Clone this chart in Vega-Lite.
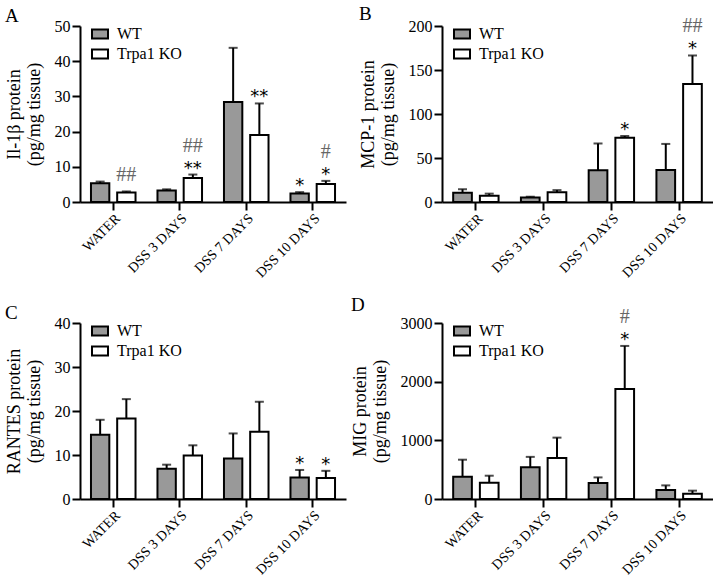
{
  "$schema": "https://vega.github.io/schema/vega-lite/v6.json",
  "padding": {"left": 5, "top": 5, "right": 0, "bottom": 0},
  "background": "white",
  "columns": 2,
  "spacing": {"row": 121, "column": 96},
  "bounds": "flush",
  "datasets": {
    "bars": [
      {"panel": "A", "group": "WATER", "genotype": "WT", "mean": 5.3, "upper": 5.8, "lo": "", "hi": ""},
      {"panel": "A", "group": "WATER", "genotype": "Trpa1 KO", "mean": 2.7, "upper": 3.0, "lo": "##", "hi": ""},
      {"panel": "A", "group": "DSS 3 DAYS", "genotype": "WT", "mean": 3.3, "upper": 3.6, "lo": "", "hi": ""},
      {"panel": "A", "group": "DSS 3 DAYS", "genotype": "Trpa1 KO", "mean": 6.8, "upper": 7.8, "lo": "**", "hi": "##"},
      {"panel": "A", "group": "DSS 7 DAYS", "genotype": "WT", "mean": 28.4, "upper": 43.8, "lo": "", "hi": ""},
      {"panel": "A", "group": "DSS 7 DAYS", "genotype": "Trpa1 KO", "mean": 19.0, "upper": 28.0, "lo": "**", "hi": ""},
      {"panel": "A", "group": "DSS 10 DAYS", "genotype": "WT", "mean": 2.4, "upper": 2.8, "lo": "*", "hi": ""},
      {"panel": "A", "group": "DSS 10 DAYS", "genotype": "Trpa1 KO", "mean": 5.1, "upper": 6.0, "lo": "*", "hi": "#"},
      {"panel": "B", "group": "WATER", "genotype": "WT", "mean": 10.5, "upper": 14.5, "lo": "", "hi": ""},
      {"panel": "B", "group": "WATER", "genotype": "Trpa1 KO", "mean": 7.0, "upper": 9.5, "lo": "", "hi": ""},
      {"panel": "B", "group": "DSS 3 DAYS", "genotype": "WT", "mean": 5.0, "upper": 6.0, "lo": "", "hi": ""},
      {"panel": "B", "group": "DSS 3 DAYS", "genotype": "Trpa1 KO", "mean": 11.0, "upper": 13.5, "lo": "", "hi": ""},
      {"panel": "B", "group": "DSS 7 DAYS", "genotype": "WT", "mean": 36.0, "upper": 66.5, "lo": "", "hi": ""},
      {"panel": "B", "group": "DSS 7 DAYS", "genotype": "Trpa1 KO", "mean": 73.0, "upper": 75.0, "lo": "*", "hi": ""},
      {"panel": "B", "group": "DSS 10 DAYS", "genotype": "WT", "mean": 36.5, "upper": 66.0, "lo": "", "hi": ""},
      {"panel": "B", "group": "DSS 10 DAYS", "genotype": "Trpa1 KO", "mean": 134.0, "upper": 166.5, "lo": "*", "hi": "##"},
      {"panel": "C", "group": "WATER", "genotype": "WT", "mean": 14.6, "upper": 18.0, "lo": "", "hi": ""},
      {"panel": "C", "group": "WATER", "genotype": "Trpa1 KO", "mean": 18.3, "upper": 22.7, "lo": "", "hi": ""},
      {"panel": "C", "group": "DSS 3 DAYS", "genotype": "WT", "mean": 6.9, "upper": 7.8, "lo": "", "hi": ""},
      {"panel": "C", "group": "DSS 3 DAYS", "genotype": "Trpa1 KO", "mean": 9.9, "upper": 12.2, "lo": "", "hi": ""},
      {"panel": "C", "group": "DSS 7 DAYS", "genotype": "WT", "mean": 9.2, "upper": 14.9, "lo": "", "hi": ""},
      {"panel": "C", "group": "DSS 7 DAYS", "genotype": "Trpa1 KO", "mean": 15.3, "upper": 22.1, "lo": "", "hi": ""},
      {"panel": "C", "group": "DSS 10 DAYS", "genotype": "WT", "mean": 4.9, "upper": 6.6, "lo": "*", "hi": ""},
      {"panel": "C", "group": "DSS 10 DAYS", "genotype": "Trpa1 KO", "mean": 4.8, "upper": 6.4, "lo": "*", "hi": ""},
      {"panel": "D", "group": "WATER", "genotype": "WT", "mean": 380, "upper": 670, "lo": "", "hi": ""},
      {"panel": "D", "group": "WATER", "genotype": "Trpa1 KO", "mean": 275, "upper": 397, "lo": "", "hi": ""},
      {"panel": "D", "group": "DSS 3 DAYS", "genotype": "WT", "mean": 540, "upper": 718, "lo": "", "hi": ""},
      {"panel": "D", "group": "DSS 3 DAYS", "genotype": "Trpa1 KO", "mean": 700, "upper": 1046, "lo": "", "hi": ""},
      {"panel": "D", "group": "DSS 7 DAYS", "genotype": "WT", "mean": 272, "upper": 368, "lo": "", "hi": ""},
      {"panel": "D", "group": "DSS 7 DAYS", "genotype": "Trpa1 KO", "mean": 1874, "upper": 2609, "lo": "*", "hi": "#"},
      {"panel": "D", "group": "DSS 10 DAYS", "genotype": "WT", "mean": 155, "upper": 232, "lo": "", "hi": ""},
      {"panel": "D", "group": "DSS 10 DAYS", "genotype": "Trpa1 KO", "mean": 90, "upper": 142, "lo": "", "hi": ""}
    ]
  },
  "concat": [
    {
      "width": 266, "height": 176,
      "title": {"text": "A"},
      "data": {"name": "bars"},
      "transform": [{"filter": "datum.panel === 'A'"}],
      "encoding": {
        "x": {"field": "group", "type": "nominal", "sort": ["WATER", "DSS 3 DAYS", "DSS 7 DAYS", "DSS 10 DAYS"], "scale": {"paddingInner": 0.33, "paddingOuter": 0.165}, "title": null, "axis": {"labelAngle": -45}},
        "xOffset": {"field": "genotype", "type": "nominal", "sort": ["WT", "Trpa1 KO"], "scale": {"paddingInner": 0.3}}
      },
      "layer": [
        {"mark": {"type": "bar", "stroke": "black", "strokeWidth": 2},
         "encoding": {
           "y": {"field": "mean", "type": "quantitative", "title": ["Il-1β protein", "(pg/mg tissue)"], "scale": {"domain": [0, 50], "nice": false}, "axis": {"values": [0, 10, 20, 30, 40, 50], "format": "d"}},
           "fill": {"field": "genotype", "type": "nominal", "sort": ["WT", "Trpa1 KO"], "scale": {"domain": ["WT", "Trpa1 KO"], "range": ["#999999", "#ffffff"]}, "legend": {"orient": "none", "legendX": 11, "legendY": -1}}
         }},
        {"mark": {"type": "rule", "strokeWidth": 2, "color": "black"},
         "encoding": {"y": {"field": "mean", "type": "quantitative", "title": ["Il-1β protein", "(pg/mg tissue)"], "axis": {"values": [0, 10, 20, 30, 40, 50], "format": "d"}}, "y2": {"field": "upper"}}},
        {"mark": {"type": "tick", "thickness": 2, "size": 9, "color": "black"},
         "encoding": {"y": {"field": "upper", "type": "quantitative", "title": ["Il-1β protein", "(pg/mg tissue)"], "axis": {"values": [0, 10, 20, 30, 40, 50], "format": "d"}}}},
        {"transform": [{"filter": "indexof(datum.lo, '*') >= 0"}],
         "mark": {"type": "text", "font": "DejaVu Sans", "fontSize": 18, "baseline": "alphabetic", "dy": -1, "color": "black"},
         "encoding": {"y": {"field": "upper", "type": "quantitative", "title": ["Il-1β protein", "(pg/mg tissue)"], "axis": {"values": [0, 10, 20, 30, 40, 50], "format": "d"}}, "text": {"field": "lo"}}},
        {"transform": [{"filter": "indexof(datum.lo, '#') >= 0"}],
         "mark": {"type": "text", "font": "Liberation Serif", "fontSize": 20, "baseline": "alphabetic", "dy": -10, "color": "#666666"},
         "encoding": {"y": {"field": "upper", "type": "quantitative", "title": ["Il-1β protein", "(pg/mg tissue)"], "axis": {"values": [0, 10, 20, 30, 40, 50], "format": "d"}}, "text": {"field": "lo"}}},
        {"transform": [{"filter": "datum.hi !== ''"}],
         "mark": {"type": "text", "font": "Liberation Serif", "fontSize": 20, "baseline": "alphabetic", "dy": -23, "color": "#666666"},
         "encoding": {"y": {"field": "upper", "type": "quantitative", "title": ["Il-1β protein", "(pg/mg tissue)"], "axis": {"values": [0, 10, 20, 30, 40, 50], "format": "d"}}, "text": {"field": "hi"}}}
      ]
    },
    {
      "width": 271, "height": 176,
      "title": {"text": "B"},
      "data": {"name": "bars"},
      "transform": [{"filter": "datum.panel === 'B'"}],
      "encoding": {
        "x": {"field": "group", "type": "nominal", "sort": ["WATER", "DSS 3 DAYS", "DSS 7 DAYS", "DSS 10 DAYS"], "scale": {"paddingInner": 0.33, "paddingOuter": 0.165}, "title": null, "axis": {"labelAngle": -45}},
        "xOffset": {"field": "genotype", "type": "nominal", "sort": ["WT", "Trpa1 KO"], "scale": {"paddingInner": 0.3}}
      },
      "layer": [
        {"mark": {"type": "bar", "stroke": "black", "strokeWidth": 2},
         "encoding": {
           "y": {"field": "mean", "type": "quantitative", "title": ["MCP-1 protein", "(pg/mg tissue)"], "scale": {"domain": [0, 200], "nice": false}, "axis": {"values": [0, 50, 100, 150, 200], "format": "d"}},
           "fill": {"field": "genotype", "type": "nominal", "sort": ["WT", "Trpa1 KO"], "scale": {"domain": ["WT", "Trpa1 KO"], "range": ["#999999", "#ffffff"]}, "legend": {"orient": "none", "legendX": 11, "legendY": -1}}
         }},
        {"mark": {"type": "rule", "strokeWidth": 2, "color": "black"},
         "encoding": {"y": {"field": "mean", "type": "quantitative", "title": ["MCP-1 protein", "(pg/mg tissue)"], "axis": {"values": [0, 50, 100, 150, 200], "format": "d"}}, "y2": {"field": "upper"}}},
        {"mark": {"type": "tick", "thickness": 2, "size": 9, "color": "black"},
         "encoding": {"y": {"field": "upper", "type": "quantitative", "title": ["MCP-1 protein", "(pg/mg tissue)"], "axis": {"values": [0, 50, 100, 150, 200], "format": "d"}}}},
        {"transform": [{"filter": "indexof(datum.lo, '*') >= 0"}],
         "mark": {"type": "text", "font": "DejaVu Sans", "fontSize": 18, "baseline": "alphabetic", "dy": -1, "color": "black"},
         "encoding": {"y": {"field": "upper", "type": "quantitative", "title": ["MCP-1 protein", "(pg/mg tissue)"], "axis": {"values": [0, 50, 100, 150, 200], "format": "d"}}, "text": {"field": "lo"}}},
        {"transform": [{"filter": "datum.hi !== ''"}],
         "mark": {"type": "text", "font": "Liberation Serif", "fontSize": 20, "baseline": "alphabetic", "dy": -23, "color": "#666666"},
         "encoding": {"y": {"field": "upper", "type": "quantitative", "title": ["MCP-1 protein", "(pg/mg tissue)"], "axis": {"values": [0, 50, 100, 150, 200], "format": "d"}}, "text": {"field": "hi"}}}
      ]
    },
    {
      "width": 266, "height": 176,
      "title": {"text": "C"},
      "data": {"name": "bars"},
      "transform": [{"filter": "datum.panel === 'C'"}],
      "encoding": {
        "x": {"field": "group", "type": "nominal", "sort": ["WATER", "DSS 3 DAYS", "DSS 7 DAYS", "DSS 10 DAYS"], "scale": {"paddingInner": 0.33, "paddingOuter": 0.165}, "title": null, "axis": {"labelAngle": -45}},
        "xOffset": {"field": "genotype", "type": "nominal", "sort": ["WT", "Trpa1 KO"], "scale": {"paddingInner": 0.3}}
      },
      "layer": [
        {"mark": {"type": "bar", "stroke": "black", "strokeWidth": 2},
         "encoding": {
           "y": {"field": "mean", "type": "quantitative", "title": ["RANTES protein", "(pg/mg tissue)"], "scale": {"domain": [0, 40], "nice": false}, "axis": {"values": [0, 10, 20, 30, 40], "format": "d"}},
           "fill": {"field": "genotype", "type": "nominal", "sort": ["WT", "Trpa1 KO"], "scale": {"domain": ["WT", "Trpa1 KO"], "range": ["#999999", "#ffffff"]}, "legend": {"orient": "none", "legendX": 11, "legendY": -1}}
         }},
        {"mark": {"type": "rule", "strokeWidth": 2, "color": "black"},
         "encoding": {"y": {"field": "mean", "type": "quantitative", "title": ["RANTES protein", "(pg/mg tissue)"], "axis": {"values": [0, 10, 20, 30, 40], "format": "d"}}, "y2": {"field": "upper"}}},
        {"mark": {"type": "tick", "thickness": 2, "size": 9, "color": "black"},
         "encoding": {"y": {"field": "upper", "type": "quantitative", "title": ["RANTES protein", "(pg/mg tissue)"], "axis": {"values": [0, 10, 20, 30, 40], "format": "d"}}}},
        {"transform": [{"filter": "indexof(datum.lo, '*') >= 0"}],
         "mark": {"type": "text", "font": "DejaVu Sans", "fontSize": 18, "baseline": "alphabetic", "dy": -1, "color": "black"},
         "encoding": {"y": {"field": "upper", "type": "quantitative", "title": ["RANTES protein", "(pg/mg tissue)"], "axis": {"values": [0, 10, 20, 30, 40], "format": "d"}}, "text": {"field": "lo"}}}
      ]
    },
    {
      "width": 271, "height": 176,
      "title": {"text": "D"},
      "data": {"name": "bars"},
      "transform": [{"filter": "datum.panel === 'D'"}],
      "encoding": {
        "x": {"field": "group", "type": "nominal", "sort": ["WATER", "DSS 3 DAYS", "DSS 7 DAYS", "DSS 10 DAYS"], "scale": {"paddingInner": 0.33, "paddingOuter": 0.165}, "title": null, "axis": {"labelAngle": -45}},
        "xOffset": {"field": "genotype", "type": "nominal", "sort": ["WT", "Trpa1 KO"], "scale": {"paddingInner": 0.3}}
      },
      "layer": [
        {"mark": {"type": "bar", "stroke": "black", "strokeWidth": 2},
         "encoding": {
           "y": {"field": "mean", "type": "quantitative", "title": ["MIG protein", "(pg/mg tissue)"], "scale": {"domain": [0, 3000], "nice": false}, "axis": {"values": [0, 1000, 2000, 3000], "format": "d"}},
           "fill": {"field": "genotype", "type": "nominal", "sort": ["WT", "Trpa1 KO"], "scale": {"domain": ["WT", "Trpa1 KO"], "range": ["#999999", "#ffffff"]}, "legend": {"orient": "none", "legendX": 11, "legendY": -1}}
         }},
        {"mark": {"type": "rule", "strokeWidth": 2, "color": "black"},
         "encoding": {"y": {"field": "mean", "type": "quantitative", "title": ["MIG protein", "(pg/mg tissue)"], "axis": {"values": [0, 1000, 2000, 3000], "format": "d"}}, "y2": {"field": "upper"}}},
        {"mark": {"type": "tick", "thickness": 2, "size": 9, "color": "black"},
         "encoding": {"y": {"field": "upper", "type": "quantitative", "title": ["MIG protein", "(pg/mg tissue)"], "axis": {"values": [0, 1000, 2000, 3000], "format": "d"}}}},
        {"transform": [{"filter": "indexof(datum.lo, '*') >= 0"}],
         "mark": {"type": "text", "font": "DejaVu Sans", "fontSize": 18, "baseline": "alphabetic", "dy": -1, "color": "black"},
         "encoding": {"y": {"field": "upper", "type": "quantitative", "title": ["MIG protein", "(pg/mg tissue)"], "axis": {"values": [0, 1000, 2000, 3000], "format": "d"}}, "text": {"field": "lo"}}},
        {"transform": [{"filter": "datum.hi !== ''"}],
         "mark": {"type": "text", "font": "Liberation Serif", "fontSize": 20, "baseline": "alphabetic", "dy": -23, "color": "#666666"},
         "encoding": {"y": {"field": "upper", "type": "quantitative", "title": ["MIG protein", "(pg/mg tissue)"], "axis": {"values": [0, 1000, 2000, 3000], "format": "d"}}, "text": {"field": "hi"}}}
      ]
    }
  ],
  "resolve": {
    "scale": {"x": "independent", "y": "independent", "xOffset": "independent", "fill": "independent"},
    "legend": {"fill": "independent"}
  },
  "config": {
    "font": "Liberation Serif",
    "view": {"stroke": null},
    "axis": {
      "grid": false,
      "domainColor": "black", "domainWidth": 2,
      "tickColor": "black", "tickWidth": 2, "tickSize": 8,
      "labelFont": "Liberation Serif", "labelFontSize": 16, "labelColor": "black", "labelPadding": 2,
      "titleFont": "Liberation Serif", "titleFontSize": 18, "titleFontWeight": "normal", "titleColor": "black", "titleLineHeight": 20, "titlePadding": 11
    },
    "axisX": {"labelAngle": -45, "bandPosition": 0.5, "labelPadding": 1, "labelFontSize": 14},
    "legend": {
      "title": null, "padding": 0,
      "symbolType": "M-1,-0.55H1V0.55H-1Z", "symbolSize": 256,
      "symbolStrokeColor": "black", "symbolStrokeWidth": 2,
      "labelFont": "Liberation Serif", "labelFontSize": 16, "labelColor": "black", "labelOffset": 8,
      "rowPadding": 2
    },
    "title": {"anchor": "start", "frame": "bounds", "font": "Liberation Serif", "fontSize": 19, "fontWeight": "normal", "color": "black", "offset": -8}
  }
}
